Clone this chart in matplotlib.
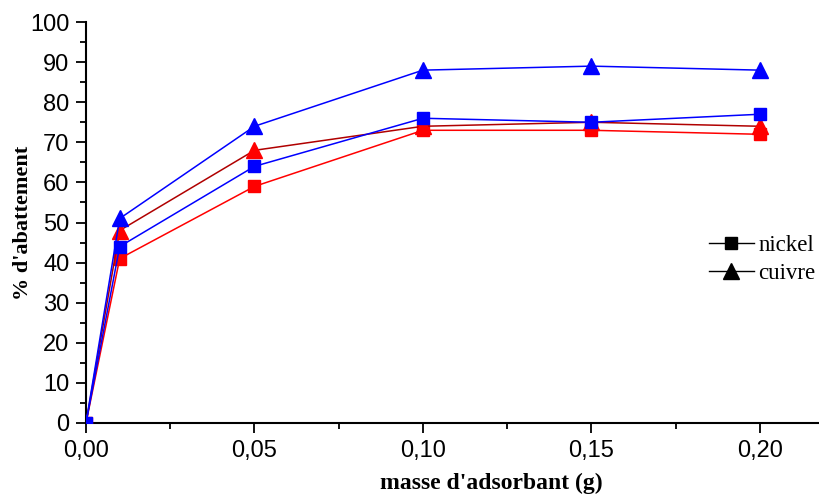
import matplotlib.pyplot as plt
from matplotlib.ticker import MultipleLocator, FuncFormatter
from matplotlib.lines import Line2D

masse = [0.0, 0.01, 0.05, 0.10, 0.15, 0.20]

# abattement (%)
cuivre_bleu = [0, 51, 74, 88, 89, 88]
nickel_bleu = [0, 44, 64, 76, 75, 77]
cuivre_rouge = [0, 48, 68, 74, 75, 74]
nickel_rouge = [0, 41, 59, 73, 73, 72]

fig = plt.figure(figsize=(8.19, 4.95), dpi=100)
# the axes runs past the right edge of the picture, as in the original
ax = fig.add_axes([86 / 819, 0.1455, 810 / 819, 0.810])

ax.plot(masse, nickel_rouge, color='red', lw=1.1, marker='s', ms=9, zorder=3)
ax.plot(masse, cuivre_rouge, color='#b00000', lw=1.1, marker='^', ms=11,
        mfc='red', mec='red', zorder=3)
ax.plot(masse, nickel_bleu, color='blue', lw=1.1, marker='s', ms=9, zorder=3)
ax.plot(masse, cuivre_bleu, color='blue', lw=1.1, marker='^', ms=11, zorder=3)

ax.set_xlim(0, 0.2404)
ax.set_ylim(0, 100)
ax.spines['top'].set_visible(False)
ax.spines['right'].set_visible(False)
ax.spines['left'].set_linewidth(1.5)
ax.spines['bottom'].set_linewidth(1.5)

ax.xaxis.set_major_locator(MultipleLocator(0.05))
ax.xaxis.set_minor_locator(MultipleLocator(0.025))
ax.yaxis.set_major_locator(MultipleLocator(10))
ax.yaxis.set_minor_locator(MultipleLocator(5))
ax.xaxis.set_major_formatter(FuncFormatter(lambda v, p: f"{v:.2f}".replace('.', ',')))
ax.tick_params(which='major', direction='out', length=7, width=1.3,
               labelsize=17, pad=5)
ax.tick_params(which='minor', direction='out', length=4, width=1.3)
for lab in ax.get_xticklabels() + ax.get_yticklabels():
    lab.set_fontfamily('Liberation Sans')

ax.set_xlabel("masse d'adsorbant (g)", fontfamily='Liberation Serif',
              fontweight='bold', fontsize=17, labelpad=8)
ax.set_ylabel("% d'abattement", fontfamily='Liberation Serif',
              fontweight='bold', fontsize=16)
ax.yaxis.set_label_coords(-0.066, 0.5)

handles = [Line2D([], [], color='black', lw=1, marker='s', ms=8),
           Line2D([], [], color='black', lw=1, marker='^', ms=11)]
fig.legend(handles, ['nickel', 'cuivre'], loc='upper left',
           bbox_to_anchor=(709 / 819, 1 - 235 / 495), frameon=False,
           prop={'family': 'Liberation Serif', 'size': 16.5},
           handlelength=1.95, handletextpad=0.2, labelspacing=0.3,
           borderpad=0, borderaxespad=0)

fig.savefig('out.png', dpi=100)
